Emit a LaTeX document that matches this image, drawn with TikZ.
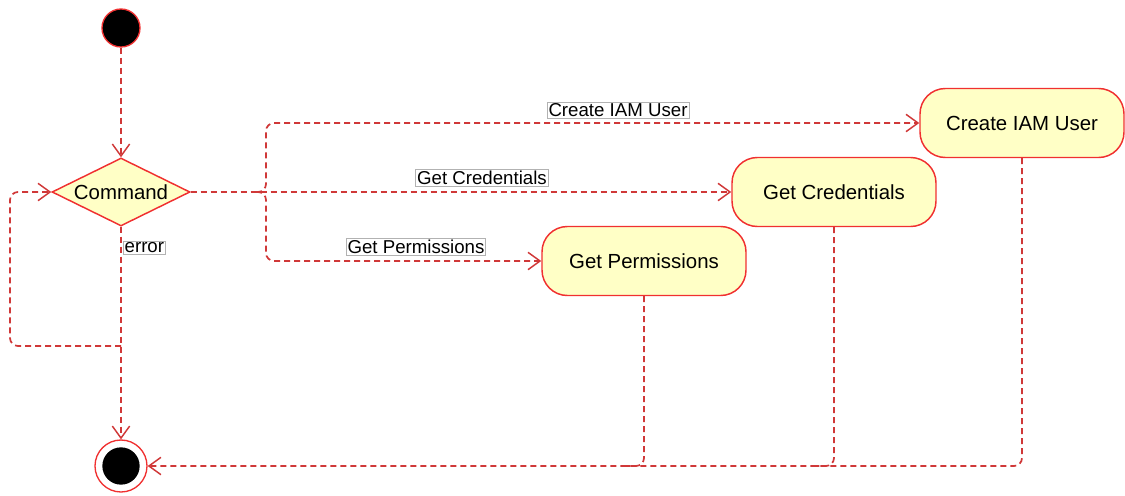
\documentclass[tikz,border=0pt]{standalone}
\usepackage{fontspec}
\setmainfont{Liberation Sans}
\usetikzlibrary{shapes.geometric,arrows.meta}
\definecolor{lnred}{HTML}{D03838}
\definecolor{bdred}{HTML}{F03030}
\definecolor{fillyel}{HTML}{FFFFC6}
\begin{document}
\begin{tikzpicture}[x=0.75pt,y=-0.75pt,
  flow/.style={draw=lnred, dash pattern=on 4.5pt off 3pt, line width=1.3pt, rounded corners=6pt},
  arr/.style={flow, -{Straight Barb[length=9pt,width=13pt,line width=1.1pt]}},
  act/.style={draw=bdred, fill=fillyel, line width=1.1pt, rounded corners=19pt, minimum width=153pt, minimum height=51.75pt, font=\fontsize{15.3}{18}\selectfont},
  lbl/.style={draw=gray!60, fill=white, line width=0.5pt, inner sep=1pt, font=\fontsize{14}{16}\selectfont}
]
\useasboundingbox (0,0) rectangle (1125,496);
\node[circle, fill=black, draw=bdred, line width=1pt, minimum size=28.5pt, inner sep=0] (start) at (121,28) {};
\node[diamond, aspect=2, draw=bdred, fill=fillyel, line width=1.1pt, minimum width=103.5pt, minimum height=51pt, inner sep=0, font=\fontsize{15.3}{18}\selectfont] (cmd) at (121,192) {Command};
\node[act] (create) at (1022,123) {Create IAM User};
\node[act] (cred) at (834,192) {Get Credentials};
\node[act] (perm) at (644,261) {Get Permissions};
\node[circle, draw=bdred, fill=white, line width=1pt, minimum size=39pt, inner sep=0] (final) at (121,466) {};
\node[circle, fill=black, minimum size=28pt, inner sep=0] (finalin) at (121,466) {};
\coordinate (loopj) at (121,346);
\coordinate (bj) at (256,192);
\coordinate (pj) at (626,466);
\coordinate (cj) at (816,466);
\draw[arr] (start) -- (cmd);
\draw[arr] (cmd.south) -- (final.north);
\draw[arr] (loopj) -- (10,346) -- (10,192) -- (cmd.west);
\draw[arr] (cmd.east) -- (cred.west);
\draw[arr] (bj) -- (266,192) -- (266,123) -- (create.west);
\draw[arr] (bj) -- (266,192) -- (266,261) -- (perm.west);
\draw[arr] (create.south) |- (final.east);
\draw[flow] (perm.south) |- (pj);
\draw[flow] (cred.south) |- (cj);
\node[lbl, anchor=west] (err) at (123,248) {error};
\node[lbl] (lcreate) at (618,110) {Create IAM User};
\node[lbl] (lcred) at (482,178) {Get Credentials};
\node[lbl] (lperm) at (416,247) {Get Permissions};
\end{tikzpicture}
\end{document}
